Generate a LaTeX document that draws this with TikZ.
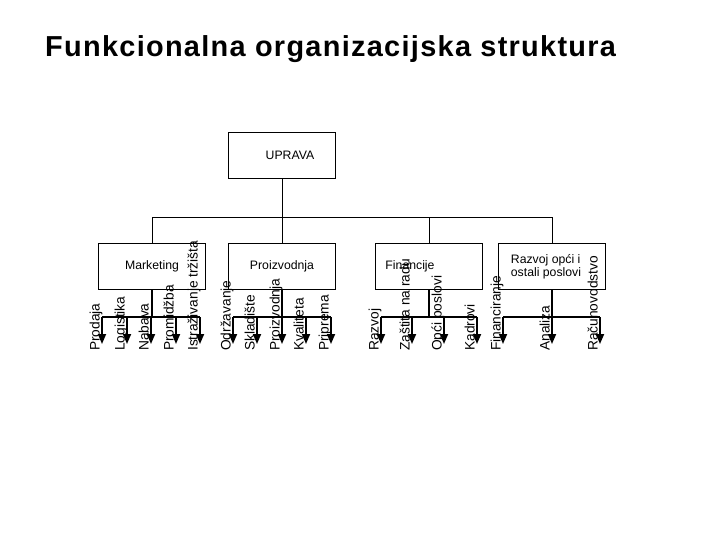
\documentclass[tikz,border=0pt]{standalone}
\usepackage{fontspec}
\setmainfont{Liberation Sans}
\newfontfamily\titlefont[LetterSpace=4.5]{Liberation Sans}
\usetikzlibrary{arrows.meta}

\tikzset{
  unit/.style={draw, line width=1.3bp, minimum width=107bp, minimum height=46bp,
    inner sep=0pt, align=left, font=\fontsize{12.3}{13.5}\selectfont},
  link/.style={line width=1bp},
  branch/.style={line width=1.7bp},
  down/.style={branch, -{Triangle[width=8bp,length=10bp]}},
  job/.style={rotate=90, anchor=base west, inner sep=0pt, font=\fontsize{13.8}{16}\selectfont},
}

\begin{document}
\begin{tikzpicture}[x=1bp, y=-1bp]
  \useasboundingbox (0,0) rectangle (720,540);

  % Title
  \node[anchor=base west, inner sep=0pt, font=\titlefont\bfseries\fontsize{29}{34}\selectfont]
    (title) at (45,57) {Funkcionalna organizacijska struktura};

  % Top unit and departments
  \node[unit] (upr) at (282,155.5) {\hspace*{16bp}UPRAVA};
  \node[unit] (mkt) at (152,266.5) {Marketing};
  \node[unit] (pro) at (282,266.5) {Proizvodnja};
  \node[unit] (fin) at (429,266.5) {\hspace*{-38bp}Financije};
  \node[unit] (raz) at (552,266.5) {Razvoj opći i\hspace*{12bp}\\ostali poslovi\hspace*{12bp}};

  % Links to departments
  \draw[link] (upr.south) -- ++(0,38) coordinate (hub);
  \draw[link] (mkt.north) |- (hub) -| (raz.north);
  \draw[link] (hub) -- (pro.north);
  \draw[link] (fin.north) -- (fin.north |- hub);

  % Tasks of each department
  \foreach \dep/\tasks in {
      mkt/{102/Prodaja, 127/Logistika, 151/Nabava, 176/Promidžba, 200/Istraživanje tržišta},
      pro/{233/Održavanje, 257/Skladište, 282/Proizvodnja, 306/Kvaliteta, 331/Priprema},
      fin/{381/Razvoj, 412/Zaštita na radu, 444/Opći poslovi, 477/Kadrovi},
      raz/{503/Financiranje, 552/Analiza, 600/Računovodstvo}} {
    \draw[branch] (\dep.south) -- ++(0,28) coordinate (\dep-bus);
    \foreach \x/\t [count=\i] in \tasks {
      \coordinate (\dep-\i) at (\x,317);
      \coordinate (\dep-\i-end) at (\x,344);
      \draw[down] (\dep-\i) -- (\dep-\i-end);
      \node[job] (\dep-\i-lbl) at (\x-2.5,351) {\t};
      \xdef\last{\i}
    }
    \draw[branch] (\dep-1) -- (\dep-\last);
  }
\end{tikzpicture}
\end{document}
